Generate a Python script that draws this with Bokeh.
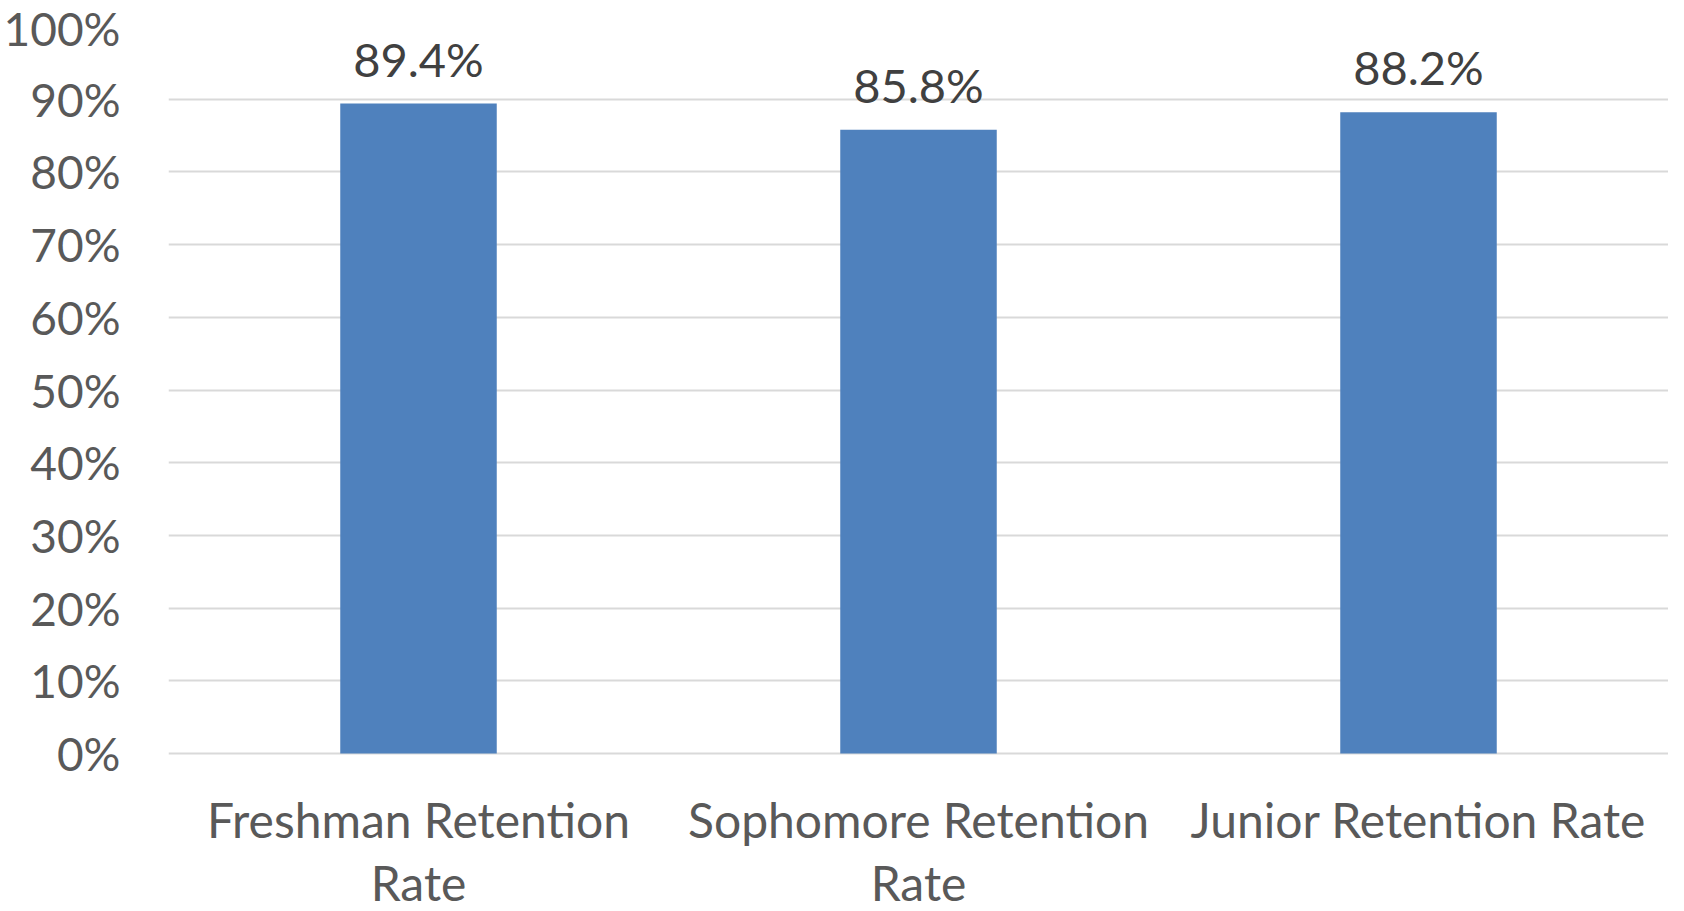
from bokeh.plotting import figure
from bokeh.models import FactorRange, Range1d, FixedTicker, ColumnDataSource, CategoricalAxis
from bokeh.core.properties import value
from bokeh.embed import file_html
from bokeh.resources import INLINE

categories = ["Freshman Retention\nRate", "Sophomore Retention\nRate", "Junior Retention Rate"]
rates = [89.4, 85.8, 88.2]
labels = ["89.4%", "85.8%", "88.2%"]
y_ticks = [0, 10, 20, 30, 40, 50, 60, 70, 80, 90, 100]
y_tick_labels = {t: f"{t}%" for t in y_ticks}

FONT = "Lato"

# layout (pixels)
W, H = 1668, 911
TOP, LEFT = 26, 162
PLOT_H = 727                    # pixel height of the 0..100 % span
BELOW = H - TOP - PLOT_H        # room under the 0 % line for category labels
y_low = -100.0 * BELOW / PLOT_H

src = ColumnDataSource(dict(cat=categories, rate=rates, label=labels))

p = figure(x_range=FactorRange(*categories, range_padding=0), y_range=Range1d(y_low, 100),
           width=W, height=H, output_backend="svg", toolbar_location=None,
           x_axis_location=None,
           min_border_left=LEFT, min_border_right=0, min_border_top=TOP, min_border_bottom=0)
p.outline_line_color = None
p.background_fill_color = "white"
p.border_fill_color = "white"

p.vbar(x="cat", top="rate", bottom=0, width=0.313, source=src, fill_color="#4f81bd", line_color=None)
p.text(x="cat", y="rate", text="label", source=src, text_align="center",
       text_baseline="alphabetic", y_offset=-45, text_font=value(FONT),
       text_font_size="47px", text_color="#404040")

p.yaxis.ticker = FixedTicker(ticks=y_ticks)
p.yaxis.major_label_overrides = y_tick_labels
p.yaxis.axis_line_color = None
p.yaxis.major_tick_line_color = None
p.yaxis.minor_tick_line_color = None
p.yaxis.major_tick_out = 0
p.yaxis.major_label_standoff = 48
p.yaxis.major_label_text_font = FONT
p.yaxis.major_label_text_font_size = "46px"
p.yaxis.major_label_text_color = "#595959"

xaxis = CategoricalAxis(fixed_location=0)
xaxis.axis_line_color = None
xaxis.major_tick_line_color = None
xaxis.minor_tick_line_color = None
xaxis.major_tick_out = 0
xaxis.major_label_standoff = 37
xaxis.major_label_text_font = FONT
xaxis.major_label_text_font_size = "48px"
xaxis.major_label_text_line_height = 1.12
xaxis.major_label_text_color = "#595959"
p.add_layout(xaxis, "below")

p.xgrid.grid_line_color = None
p.ygrid.ticker = FixedTicker(ticks=y_ticks)
p.ygrid.grid_line_color = "#d9d9d9"
p.ygrid.grid_line_width = 2

open("out.html", "w").write(file_html(p, INLINE))
